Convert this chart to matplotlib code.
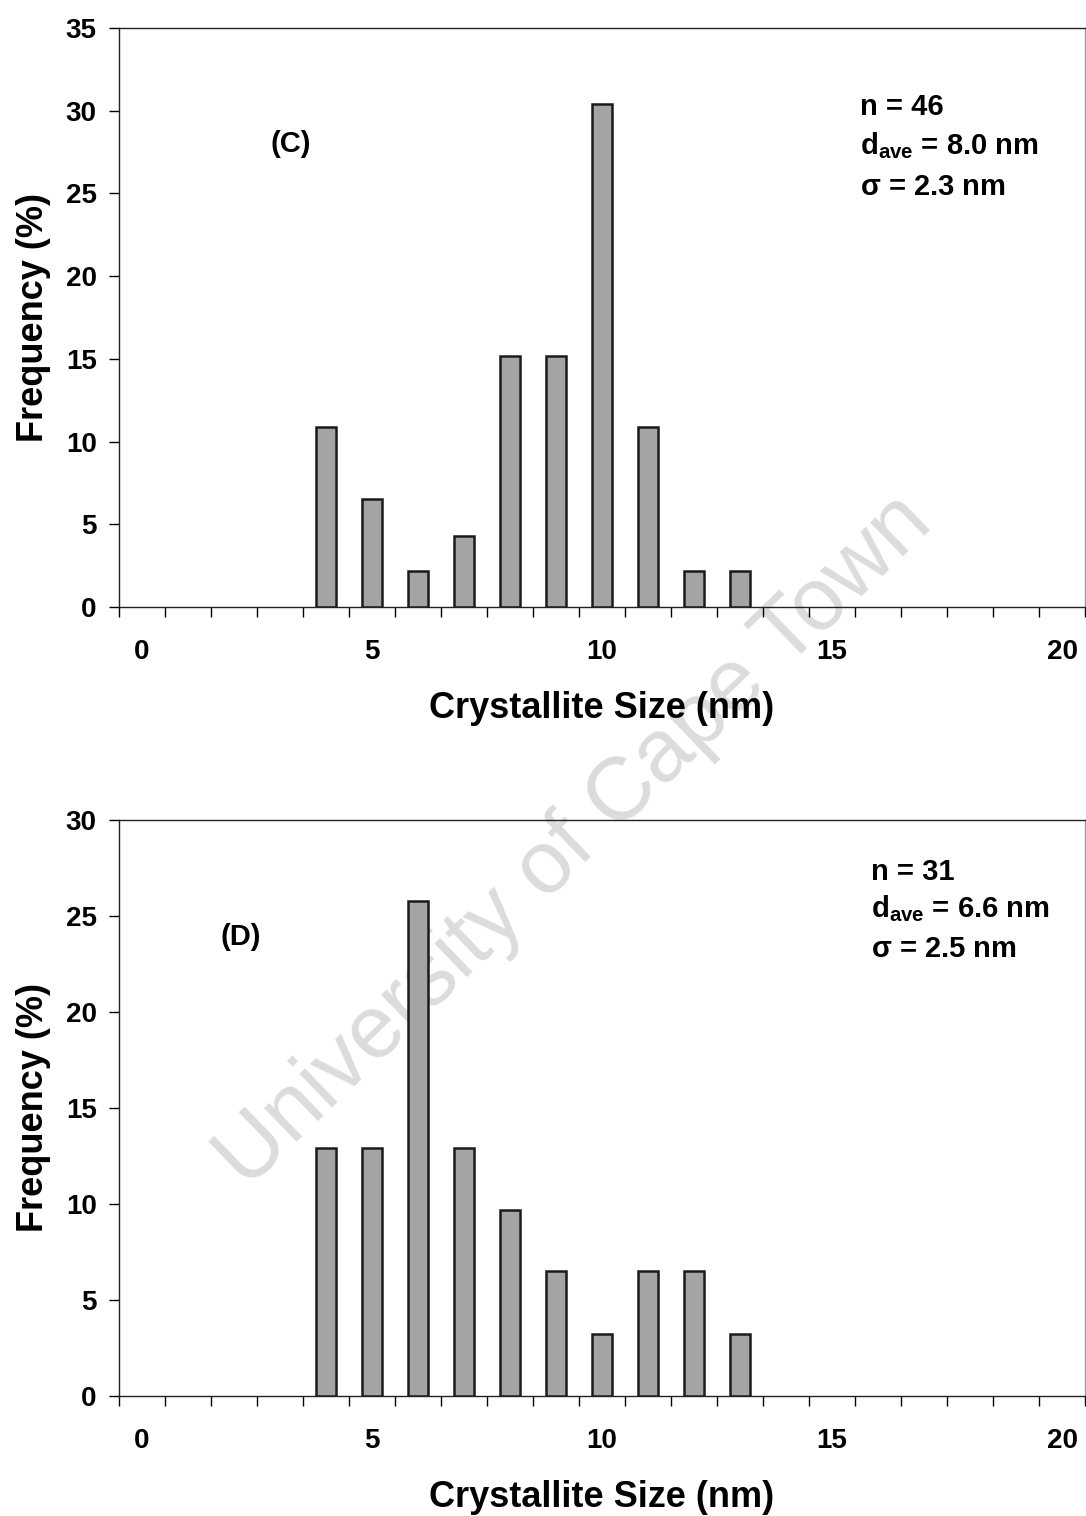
import numpy as np
import matplotlib
matplotlib.use("Agg")
import matplotlib.pyplot as plt
from matplotlib.ticker import MultipleLocator, FixedLocator

plt.rcParams['font.family'] = ['Liberation Sans', 'DejaVu Sans']
plt.rcParams['font.weight'] = 'bold'
plt.rcParams['mathtext.fontset'] = 'custom'
plt.rcParams['mathtext.rm'] = 'Liberation Sans:bold'
plt.rcParams['mathtext.it'] = 'Liberation Sans:bold'
plt.rcParams['mathtext.bf'] = 'Liberation Sans:bold'

# crystallite size classes (nm)
sizes = np.arange(0, 21)

# panel C, n = 46
freq_c = [0, 0, 0, 0, 10.9, 6.5, 2.2, 4.3, 15.2, 15.2, 30.4, 10.9, 2.2, 2.2,
          0, 0, 0, 0, 0, 0, 0]
# panel D, n = 31
freq_d = [0, 0, 0, 0, 12.9, 12.9, 25.8, 12.9, 9.7, 6.5, 3.2, 6.5, 6.5, 3.2,
          0, 0, 0, 0, 0, 0, 0]

labels = ['(C)', '(D)']
stats_c = ['n = 46', r'd$_{\rm ave}$ = 8.0 nm', r'$\sigma$ = 2.3 nm']
stats_d = ['n = 31', r'd$_{\rm ave}$ = 6.6 nm', r'$\sigma$ = 2.5 nm']
xticks = [0, 5, 10, 15, 20]

fig = plt.figure(figsize=(10.86, 15.16), dpi=100)
ax1 = fig.add_axes([0.1096, 0.5996, 0.8895, 0.3819])
ax2 = fig.add_axes([0.1096, 0.0792, 0.8895, 0.3800])

panels = [
    (ax1, freq_c, 35, labels[0], (3.24, 28.0), stats_c, 15.6, [30.2, 27.9, 25.4]),
    (ax2, freq_d, 30, labels[1], (2.15, 23.9), stats_d, 15.85, [27.3, 25.4, 23.3]),
]

for ax, freq, ymax, lab, labpos, stats, sx, sy in panels:
    ax.patch.set_alpha(0)
    mask = np.array(freq) > 0
    ax.bar(sizes[mask], np.array(freq)[mask], width=0.43, color='#a4a4a4',
           edgecolor='#1a1a1a', linewidth=1.8, zorder=3)
    ax.set_xlim(-0.5, 20.5)
    ax.set_ylim(0, ymax)
    ax.yaxis.set_major_locator(MultipleLocator(5))
    ax.xaxis.set_major_locator(FixedLocator(xticks))
    ax.xaxis.set_minor_locator(FixedLocator(np.arange(-0.5, 21, 1)))
    ax.tick_params(axis='x', which='major', length=0, pad=23, labelsize=20)
    ax.tick_params(axis='x', which='minor', length=7, width=1.0, direction='out')
    ax.tick_params(axis='y', which='major', length=7, width=1.0, direction='out',
                   pad=9, labelsize=20)
    for s in ax.spines.values():
        s.set_linewidth(1.0)
        s.set_color('#222222')
    ax.spines['right'].set_color('#999999')
    ax.set_xlabel('Crystallite Size (nm)', fontsize=26, fontweight='bold', labelpad=19)
    ax.set_ylabel('Frequency (%)', fontsize=26, fontweight='bold', labelpad=11)
    ax.text(labpos[0], labpos[1], lab, fontsize=21, fontweight='bold',
            ha='center', va='center')
    for txt, yy in zip(stats, sy):
        ax.text(sx, yy, txt, fontsize=21, fontweight='bold', ha='left', va='center')

fig.text(0.529, 0.4446, 'University of Cape Town', fontsize=64, fontweight='normal',
         color='#dcdcdc', rotation=44, ha='center', va='center', zorder=-1)

fig.savefig('out.png', dpi=100)
